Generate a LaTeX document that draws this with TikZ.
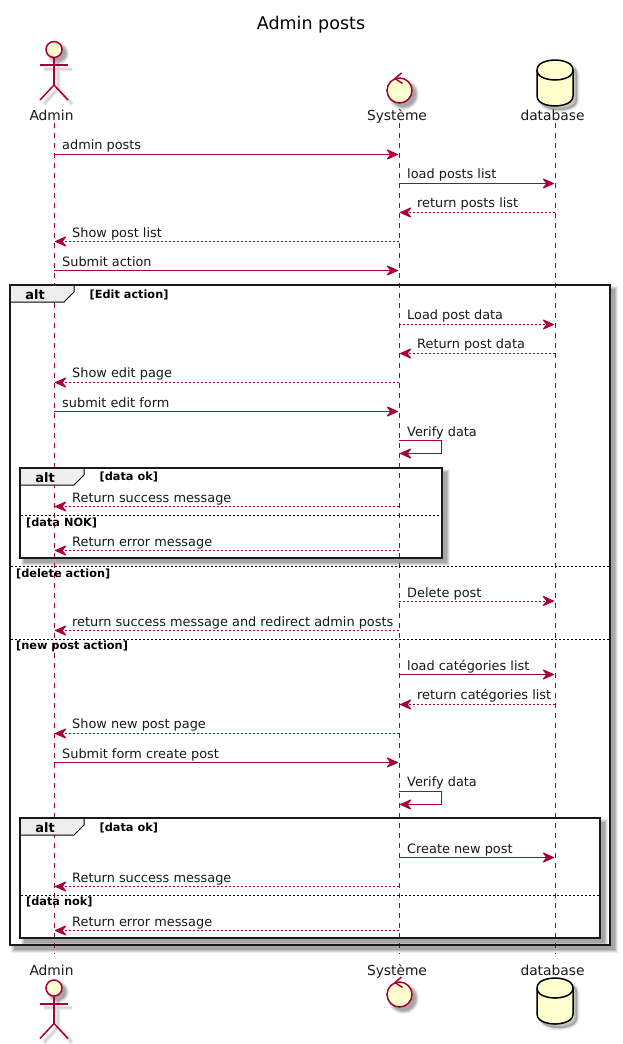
\documentclass[tikz,border=0pt]{standalone}
\usepackage{fontspec}
\setmainfont{DejaVu Sans}
\usetikzlibrary{arrows.meta,calc}
\definecolor{umlred}{HTML}{A80036}
\definecolor{umlfill}{HTML}{FEFECE}
\definecolor{tabgray}{HTML}{EEEEEE}
\tikzset{
  lifeline/.style={draw=umlred,line width=1pt,dash pattern=on 5pt off 5pt},
  msgline/.style={draw=umlred,line width=1pt,-{Stealth[length=13pt,width=11.5pt,inset=4.5pt,round=false]}},
  replyline/.style={msgline,dash pattern=on 2pt off 2pt},
  msglabel/.style={anchor=base west,inner sep=0pt,font=\fontsize{12.88}{13}\selectfont,text=black!90},
  namelabel/.style={anchor=base,inner sep=0pt,font=\fontsize{13.8}{14}\selectfont,text=black!90},
  framebox/.style={draw=black!90,line width=2pt},
  septext/.style={anchor=base west,inner sep=0pt,font=\fontsize{11.3}{11}\selectfont\bfseries},
  sepline/.style={draw=black,line width=1pt,dash pattern=on 2pt off 2pt},
  tabtext/.style={anchor=base,inner sep=0pt,font=\fontsize{13}{13}\selectfont\bfseries},
  actorline/.style={draw=umlred,line width=1.5pt},
}
\newcounter{msgid}
\newcommand{\msg}[5]{% y, from, to, end offset, style
  \stepcounter{msgid}%
  \coordinate (m\themsgid a) at (#2 |- 0,#1);
  \coordinate (m\themsgid b) at ($(#3 |- 0,#1)+(#4)$);
  \draw[#5] (m\themsgid a) -- (m\themsgid b);
}
\newcommand{\framesh}[4]{% x1 y1 x2 y2
  \foreach \gr/\op in {3.5/.07,2.5/.09,1.5/.11,0.5/.13}{
    \fill[black,opacity=\op]
      (#1+4-\gr,#2+4-\gr) rectangle (#3+4+\gr,#4+4+\gr);
  }
  \fill[white] (#1,#2) rectangle (#3,#4);
}
\newcommand{\actorshape}[3]{% name, y offset, arm offset
  \begin{scope}[shift={(54,#2)}]
    \foreach \g/\op in {5/.05,3/.06,1.5/.06}{
      \draw[black,opacity=\op,line width=\g pt] (4,12) -- (4,39) (-10,19.5) -- (18,19.5) (4,39) -- (-10,54.5) (4,39) -- (18,54.5);
    }
    \foreach \g/\op in {3/.07,2/.09,1/.11,0/.13}{
      \fill[black,opacity=\op] (4,4) circle (8+\g);
    }
    \node[circle,draw=umlred,fill=umlfill,line width=1.5pt,minimum size=16pt,inner sep=0pt] (#1) at (0,0) {};
    \draw[actorline] (#1.south) -- (0,35.5) coordinate (#1hip);
    \draw[actorline] (-14,#3) -- (14,#3);
    \draw[actorline] (#1hip) -- (-14,50.5);
    \draw[actorline] (#1hip) -- (14,50.5);
  \end{scope}
}
\newcommand{\controlshape}[2]{% name, y offset
  \begin{scope}[shift={(399.5,#2)}]
    \foreach \g/\op in {3/.07,2/.09,1/.11,0/.13}{
      \fill[black,opacity=\op] (4,4) circle (12.5+\g);
    }
    \node[circle,draw=umlred,fill=umlfill,line width=1.5pt,minimum size=25pt,inner sep=0pt] (#1) at (0,0) {};
    \draw[actorline] (2,-17.5) -- (-4.5,-12) -- (3,-7);
  \end{scope}
}
\newcommand{\dbpath}{(-18,-13) .. controls (-18,-23) and (0,-23) .. (0,-23) .. controls (0,-23) and (18,-23) .. (18,-13) -- (18,13) .. controls (18,23) and (0,23) .. (0,23) .. controls (0,23) and (-18,23) .. (-18,13) -- cycle}
\newcommand{\dbshape}[2]{%
  \begin{scope}[shift={(555,#2)}]
    \foreach \g/\op in {2.5/.06,1.5/.08,.5/.1}{
      \fill[shift={(4,4)},black,opacity=\op,draw=black,line width=2*\g pt] \dbpath;
    }
    \filldraw[fill=umlfill,draw=black,line width=1.5pt] \dbpath;
    \draw[black,line width=1.5pt] (-18,-13) .. controls (-18,-3) and (0,-3) .. (0,-3) .. controls (0,-3) and (18,-3) .. (18,-13);
    \coordinate (#1) at (0,0);
  \end{scope}
}
\begin{document}
\begin{tikzpicture}[x=1pt,y=-1pt]
\useasboundingbox[fill=white] (0,0) rectangle (623,1044);

\node[anchor=base,inner sep=0pt,font=\fontsize{17.5}{18}\selectfont,text=black] (title) at (311,29) {Admin posts};

% lifeline anchors
\coordinate (A) at (54,123);
\coordinate (S) at (399,123);
\coordinate (D) at (555,123);
\coordinate (Abot) at (54,954);
\coordinate (Sbot) at (399,954);
\coordinate (Dbot) at (555,954);

% frame shadows and interiors
\framesh{10}{285}{610}{945}
\framesh{20}{468}{442}{558}
\framesh{20}{818}{600}{938}

\draw[lifeline] (A) -- (Abot);
\draw[lifeline] (S) -- (Sbot);
\draw[lifeline] (D) -- (Dbot);

% actors
\actorshape{adminTop}{49.5}{15.5}
\actorshape{adminBot}{988}{16}
\controlshape{sysTop}{90.5}
\controlshape{sysBot}{994.5}
\dbshape{dbTop}{83}
\dbshape{dbBot}{1001}
\node[namelabel] (adminN) at (51.5,120) {Admin};
\node[namelabel] (sysN) at (397,120) {Système};
\node[namelabel] (dbN) at (552.5,120) {database};
\node[namelabel] (adminM) at (51.5,975) {Admin};
\node[namelabel] (sysM) at (397,975) {Système};
\node[namelabel] (dbM) at (552.5,975) {database};

% messages
\msg{154.5}{A}{S}{-1,0}{msgline}
\msg{183.5}{S}{D}{-1,0}{msgline}
\msg{212.5}{D}{S}{1,0}{replyline}
\msg{241.5}{S}{A}{1,0}{replyline}
\msg{270.5}{A}{S}{-1,0}{msgline}
\msg{324.5}{S}{D}{-1,0}{replyline}
\msg{353.5}{D}{S}{1,0}{replyline}
\msg{382.5}{S}{A}{1,0}{replyline}
\msg{411.5}{A}{S}{-1,0}{msgline}
\msg{506.5}{S}{A}{1,0}{replyline}
\msg{550.5}{S}{A}{1,0}{replyline}
\msg{601}{S}{D}{-1,0}{replyline}
\msg{630.5}{S}{A}{1,0}{replyline}
\msg{674.5}{S}{D}{-1,0}{msgline}
\msg{704.5}{D}{S}{1,0}{replyline}
\msg{733.5}{S}{A}{1,0}{replyline}
\msg{762.5}{A}{S}{-1,0}{msgline}
\msg{857.5}{S}{D}{-1,0}{msgline}
\msg{886.5}{S}{A}{1,0}{replyline}
\msg{930.5}{S}{A}{1,0}{replyline}

% self messages
\coordinate (v1a) at (S |- 0,440.5);
\coordinate (v1b) at (S |- 0,453.5);
\draw[msgline] (v1a) -- ++(42,0) |- ($(v1b)+(1,0)$);
\coordinate (v2a) at (S |- 0,791.5);
\coordinate (v2b) at (S |- 0,804.5);
\draw[msgline] (v2a) -- ++(42,0) |- ($(v2b)+(1,0)$);

% message labels
\foreach \xx/\yy/\tt in {
  62/149.5/admin posts,
  407/178.5/load posts list,
  417/207.5/return posts list,
  72/237/Show post list,
  62/266/Submit action,
  407/319.5/Load post data,
  417/348.5/Return post data,
  72/377.5/Show edit page,
  62/407/submit edit form,
  407/436/Verify data,
  72/502/Return success message,
  72/546/Return error message,
  407/597/Delete post,
  72/626/return success message and redirect admin posts,
  407/670/load catégories list,
  417/699.5/return catégories list,
  72/728.5/Show new post page,
  62/758/Submit form create post,
  407/786.5/Verify data,
  407/853/Create new post,
  72/882/Return success message,
  72/926/Return error message}{
  \node[msglabel] at (\xx,\yy) {\tt};
}

% frames
\draw[framebox] (10,285) rectangle (610,945);
\draw[framebox] (20,468) rectangle (442,558);
\draw[framebox] (20,818) rectangle (600,938);

% separators
\draw[sepline] (11,566.5) -- (609,566.5);
\draw[sepline] (11,639) -- (609,639);
\draw[sepline] (21,515.5) -- (441,515.5);
\draw[sepline] (21,895.5) -- (599,895.5);

% tabs
\foreach \tx/\ty/\nm in {10/285/tabA,20/468/tabB,20/818/tabC}{
  \filldraw[fill=tabgray,draw=black,line width=1pt] (\tx,\ty) -- (\tx+64,\ty) -- (\tx+64,\ty+7) -- (\tx+54,\ty+17) -- (\tx,\ty+17) -- cycle;
  \draw[black!90,line width=2pt] (\tx,\ty) -- (\tx+64,\ty);
  \draw[black!90,line width=2pt] (\tx,\ty) -- (\tx,\ty+17);
  \node[tabtext] (\nm) at (\tx+25,\ty+14.5) {alt};
}

% guard labels
\node[septext] (g1) at (89.5,298) {[Edit action]};
\node[septext] (g2) at (99.5,480.5) {[data ok]};
\node[septext] (g3) at (26,526) {[data NOK]};
\node[septext] (g4) at (16,577) {[delete action]};
\node[septext] (g5) at (16,649.5) {[new post action]};
\node[septext] (g6) at (99.5,831.5) {[data ok]};
\node[septext] (g7) at (26,905.5) {[data nok]};
\end{tikzpicture}
\end{document}
